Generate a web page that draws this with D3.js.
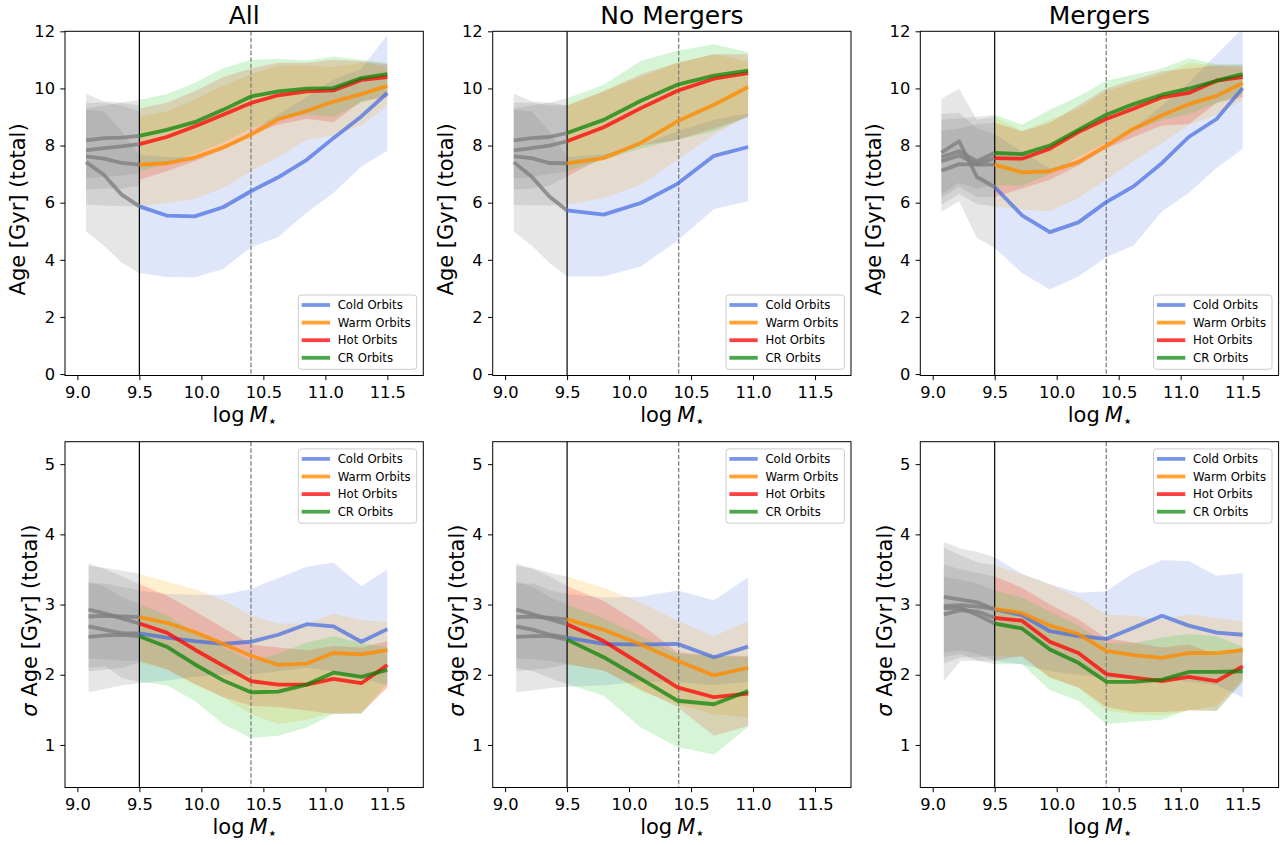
<!DOCTYPE html>
<html>
<head>
<meta charset="utf-8">
<title>Orbit ages vs stellar mass</title>
<script src="https://d3js.org/d3.v7.min.js"></script>
<style>
  body { margin: 0; background: #fff; }
  text { font-family: "DejaVu Sans", sans-serif; fill: #000; }
</style>
</head>
<body>
<script>
// mass bins
var xBins = [9.5, 9.72, 9.945, 10.175, 10.4, 10.62, 10.85, 11.065, 11.29, 11.5];
var xBinsNoMerg = [9.5, 9.795, 10.095, 10.39, 10.685, 10.96];
var xLowTop = [9.07, 9.213, 9.357, 9.5];
var xLowBot = [9.09, 9.227, 9.363, 9.5];

var orbitNames = ["Cold Orbits", "Warm Orbits", "Hot Orbits", "CR Orbits"];
var titles = ["All", "No Mergers", "Mergers"];
var xTicks = [9.0, 9.5, 10.0, 10.5, 11.0, 11.5];
var ageTicks = [0, 2, 4, 6, 8, 10, 12];
var sigTicks = [1, 2, 3, 4, 5];

// every series: [median, lower, upper]
// ---- Age, All
var ageAllCold = [[5.87, 5.55, 5.52, 5.84, 6.40, 6.89, 7.50, 8.26, 9.02, 9.84],
                  [3.54, 3.40, 3.39, 3.68, 4.44, 4.80, 5.66, 6.34, 7.27, 7.82],
                  [7.67, 7.60, 7.60, 7.90, 8.50, 9.10, 9.70, 10.30, 10.70, 11.86]];
var ageAllWarm = [[7.33, 7.38, 7.58, 7.93, 8.38, 8.92, 9.21, 9.54, 9.80, 10.09],
                  [5.87, 5.99, 6.14, 6.51, 7.10, 7.60, 8.20, 8.35, 8.70, 9.40],
                  [9.00, 9.20, 9.60, 10.10, 10.50, 10.80, 10.80, 10.75, 10.90, 10.75]];
var ageAllHot = [[8.05, 8.30, 8.67, 9.08, 9.49, 9.76, 9.90, 9.93, 10.30, 10.40],
                 [6.80, 7.10, 7.45, 7.85, 8.38, 8.73, 8.94, 8.82, 9.55, 9.70],
                 [9.30, 9.50, 9.90, 10.40, 10.70, 10.90, 10.90, 11.00, 10.95, 10.85]];
var ageAllCR = [[8.34, 8.55, 8.82, 9.25, 9.72, 9.90, 9.99, 10.01, 10.36, 10.50],
                [7.10, 7.35, 7.70, 8.10, 8.60, 8.90, 9.10, 9.00, 9.50, 9.80],
                [9.60, 9.80, 10.19, 10.71, 11.00, 11.04, 10.98, 11.12, 11.00, 10.89]];
var ageAllLowCold = [[7.42, 6.98, 6.28, 5.87], [5.00, 4.50, 3.90, 3.54], [9.25, 9.20, 8.50, 7.67]];
var ageAllLowWarm = [[7.62, 7.54, 7.39, 7.33], [5.93, 5.90, 5.88, 5.87], [9.50, 9.50, 9.40, 9.20]];
var ageAllLowHot = [[7.83, 7.91, 7.97, 8.05], [6.46, 6.50, 6.50, 6.60], [9.81, 9.55, 9.50, 9.40]];
var ageAllLowCR = [[8.18, 8.26, 8.28, 8.34], [6.86, 6.90, 6.95, 7.04], [9.30, 9.40, 9.50, 9.60]];

// ---- Age, No Mergers
var ageNoCold = [[5.73, 5.58, 5.99, 6.66, 7.64, 7.95],
                 [3.42, 3.42, 3.77, 4.67, 5.78, 6.05],
                 [7.60, 7.70, 8.00, 8.50, 8.90, 9.13]];
var ageNoWarm = [[7.38, 7.56, 8.09, 8.85, 9.43, 10.05],
                 [5.93, 6.16, 6.63, 7.50, 8.38, 9.05],
                 [9.40, 9.90, 10.40, 10.90, 11.20, 10.95]];
var ageNoHot = [[8.15, 8.64, 9.31, 9.92, 10.34, 10.54],
                [6.92, 7.60, 8.00, 8.20, 8.60, 9.00],
                [9.40, 9.90, 10.50, 10.90, 11.20, 11.20]];
var ageNoCR = [[8.44, 8.90, 9.57, 10.13, 10.45, 10.62],
               [7.10, 7.50, 7.90, 8.20, 8.50, 9.00],
               [9.66, 10.13, 10.97, 11.32, 11.55, 11.27]];
var ageNoLowCold = [[7.42, 6.92, 6.22, 5.73], [5.00, 4.50, 3.90, 3.42], [9.25, 9.20, 8.50, 7.60]];
var ageNoLowWarm = [[7.62, 7.56, 7.39, 7.38], [5.93, 5.90, 5.90, 5.93], [9.50, 9.50, 9.40, 9.40]];
var ageNoLowHot = [[7.83, 7.91, 8.00, 8.15], [6.46, 6.50, 6.60, 6.92], [9.81, 9.55, 9.50, 9.40]];
var ageNoLowCR = [[8.18, 8.26, 8.30, 8.44], [6.86, 6.90, 7.00, 7.10], [9.30, 9.40, 9.50, 9.66]];

// ---- Age, Mergers
var ageMgCold = [[6.55, 5.56, 4.97, 5.31, 6.02, 6.57, 7.39, 8.30, 8.93, 10.01],
                 [4.41, 3.54, 2.96, 3.42, 4.09, 4.50, 5.70, 6.34, 7.21, 7.89],
                 [8.40, 7.80, 7.20, 7.50, 8.00, 8.60, 9.40, 10.20, 11.20, 12.10]];
var ageMgWarm = [[7.33, 7.06, 7.10, 7.42, 7.99, 8.59, 9.06, 9.45, 9.74, 10.19],
                 [5.87, 5.76, 5.70, 6.16, 6.80, 7.45, 8.09, 8.73, 9.08, 9.60],
                 [9.00, 8.50, 8.90, 9.30, 9.90, 10.20, 10.50, 10.90, 10.80, 10.70]];
var ageMgHot = [[7.56, 7.54, 7.89, 8.47, 8.93, 9.29, 9.69, 9.84, 10.27, 10.40],
                [6.20, 6.50, 6.80, 7.30, 7.90, 8.30, 8.70, 8.75, 9.50, 9.70],
                [8.80, 8.50, 8.80, 9.40, 10.00, 10.30, 10.60, 10.70, 10.80, 10.80]];
var ageMgCR = [[7.74, 7.70, 8.00, 8.55, 9.08, 9.45, 9.78, 9.99, 10.27, 10.50],
               [6.60, 6.60, 7.00, 7.60, 8.10, 8.50, 8.90, 9.10, 9.50, 9.80],
               [9.08, 8.73, 9.25, 9.72, 10.27, 10.48, 10.71, 11.06, 10.85, 10.85]];
var ageMgLowCold = [[7.75, 8.15, 6.90, 6.55], [5.67, 6.05, 4.76, 4.41], [9.10, 9.15, 8.60, 8.40]];
var ageMgLowWarm = [[7.12, 7.35, 7.33, 7.33], [5.93, 6.30, 5.95, 5.87], [9.64, 9.99, 8.90, 9.00]];
var ageMgLowHot = [[7.45, 7.65, 7.35, 7.56], [6.16, 6.57, 6.20, 6.20], [8.50, 8.60, 8.75, 8.80]];
var ageMgLowCR = [[7.60, 7.80, 7.45, 7.74], [6.30, 6.70, 6.50, 6.60], [8.90, 8.95, 9.00, 9.08]];

// ---- sigma Age, All
var sigAllCold = [[2.59, 2.53, 2.48, 2.44, 2.47, 2.57, 2.72, 2.69, 2.47, 2.65],
                  [1.88, 1.92, 1.97, 2.00, 2.00, 2.05, 2.10, 2.05, 1.95, 1.85],
                  [3.20, 3.15, 3.14, 3.14, 3.22, 3.38, 3.54, 3.60, 3.26, 3.50]];
var sigAllWarm = [[2.82, 2.74, 2.61, 2.44, 2.27, 2.14, 2.16, 2.31, 2.29, 2.35],
                  [2.17, 2.08, 1.87, 1.68, 1.44, 1.30, 1.36, 1.46, 1.46, 1.82],
                  [3.44, 3.33, 3.22, 3.06, 2.84, 2.73, 2.73, 2.87, 2.78, 2.75]];
var sigAllHot = [[2.73, 2.60, 2.36, 2.13, 1.91, 1.86, 1.86, 1.94, 1.88, 2.14],
                 [2.20, 2.08, 1.87, 1.68, 1.56, 1.54, 1.49, 1.44, 1.45, 1.82],
                 [3.29, 3.13, 2.91, 2.67, 2.43, 2.39, 2.35, 2.41, 2.39, 2.48]];
var sigAllCR = [[2.55, 2.40, 2.15, 1.92, 1.75, 1.76, 1.86, 2.03, 1.97, 2.07],
                [1.90, 1.85, 1.63, 1.30, 1.10, 1.13, 1.25, 1.44, 1.44, 1.89],
                [3.00, 2.85, 2.60, 2.40, 2.20, 2.30, 2.46, 2.55, 2.45, 2.40]];
var sigAllLowCold = [[2.69, 2.64, 2.59, 2.59], [1.75, 1.80, 1.85, 1.88], [3.30, 3.30, 3.25, 3.20]];
var sigAllLowWarm = [[2.83, 2.84, 2.83, 2.82], [2.05, 2.07, 2.10, 2.17], [3.55, 3.52, 3.48, 3.44]];
var sigAllLowHot = [[2.93, 2.87, 2.80, 2.73], [2.23, 2.22, 2.20, 2.20], [3.59, 3.50, 3.40, 3.29]];
var sigAllLowCR = [[2.54, 2.56, 2.57, 2.55], [2.10, 2.12, 1.95, 1.90], [3.33, 3.25, 3.10, 3.00]];

// ---- sigma Age, No Mergers
var sigNoCold = [[2.53, 2.44, 2.43, 2.44, 2.25, 2.40],
                 [1.83, 1.85, 1.90, 1.90, 1.85, 1.90],
                 [3.15, 3.10, 3.11, 3.20, 3.06, 3.39]];
var sigNoWarm = [[2.79, 2.64, 2.43, 2.20, 1.99, 2.10],
                 [2.15, 2.06, 1.77, 1.58, 1.44, 1.39],
                 [3.40, 3.24, 3.03, 2.77, 2.55, 2.76]];
var sigNoHot = [[2.72, 2.48, 2.15, 1.82, 1.68, 1.73],
                [2.15, 2.06, 1.79, 1.54, 1.13, 1.27],
                [3.26, 3.05, 2.72, 2.32, 2.27, 2.27]];
var sigNoCR = [[2.50, 2.25, 1.94, 1.63, 1.58, 1.77],
               [1.87, 1.70, 1.25, 0.97, 0.86, 1.26],
               [3.00, 2.80, 2.55, 2.30, 2.27, 2.25]];
var sigNoLowCold = [[2.69, 2.64, 2.57, 2.53], [1.75, 1.78, 1.81, 1.83], [3.30, 3.30, 3.20, 3.15]];
var sigNoLowWarm = [[2.82, 2.83, 2.81, 2.79], [2.05, 2.07, 2.10, 2.15], [3.55, 3.52, 3.45, 3.40]];
var sigNoLowHot = [[2.93, 2.86, 2.79, 2.72], [2.23, 2.22, 2.20, 2.15], [3.59, 3.50, 3.40, 3.26]];
var sigNoLowCR = [[2.54, 2.55, 2.55, 2.50], [2.10, 2.05, 1.95, 1.87], [3.33, 3.25, 3.10, 3.00]];

// ---- sigma Age, Mergers
var sigMgCold = [[2.93, 2.85, 2.62, 2.55, 2.51, 2.67, 2.84, 2.70, 2.60, 2.57],
                 [2.20, 2.15, 2.05, 2.00, 1.95, 1.95, 1.95, 1.90, 1.85, 1.68],
                 [3.67, 3.44, 3.29, 3.17, 3.19, 3.45, 3.63, 3.62, 3.41, 3.45]];
var sigMgWarm = [[2.94, 2.88, 2.70, 2.58, 2.34, 2.28, 2.24, 2.31, 2.31, 2.35],
                 [2.27, 2.25, 1.96, 1.82, 1.49, 1.44, 1.42, 1.49, 1.56, 1.94],
                 [3.56, 3.43, 3.29, 3.10, 2.86, 2.84, 2.79, 2.86, 2.81, 2.76]];
var sigMgHot = [[2.81, 2.77, 2.47, 2.31, 2.01, 1.96, 1.91, 1.97, 1.91, 2.12],
                [2.20, 2.27, 1.96, 1.82, 1.54, 1.47, 1.47, 1.49, 1.49, 1.91],
                [3.40, 3.24, 3.00, 2.79, 2.52, 2.46, 2.39, 2.43, 2.29, 2.39]];
var sigMgCR = [[2.73, 2.66, 2.36, 2.17, 1.90, 1.90, 1.93, 2.04, 2.04, 2.05],
               [2.15, 2.15, 1.78, 1.63, 1.30, 1.33, 1.36, 1.50, 1.48, 1.89],
               [3.20, 3.10, 2.90, 2.70, 2.45, 2.45, 2.53, 2.58, 2.55, 2.40]];
var sigMgLowCold = [[3.11, 3.07, 3.03, 2.93], [1.91, 2.20, 2.20, 2.20], [3.89, 3.80, 3.75, 3.67]];
var sigMgLowWarm = [[2.98, 2.99, 2.97, 2.94], [2.16, 2.25, 2.25, 2.27], [3.81, 3.70, 3.60, 3.56]];
var sigMgLowHot = [[2.86, 2.92, 2.90, 2.81], [2.32, 2.35, 2.30, 2.20], [3.57, 3.50, 3.45, 3.40]];
var sigMgLowCR = [[2.95, 2.95, 2.85, 2.73], [2.25, 2.30, 2.20, 2.15], [3.40, 3.35, 3.30, 3.20]];

// styling
var lineColors = ["royalblue", "darkorange", "red", "green"];
var lineAlpha = [0.7, 0.8, 0.75, 0.7];
var bandColors = ["royalblue", "orange", "red", "limegreen"];
var bandAlpha = [0.17, 0.18, 0.17, 0.2];

var colLeft = [65, 492.7, 920.3];
var pw = 358.3;
var rowTop = [31.3, 441.7];
var rowH = [344.2, 345.8];

var panels = [
  { row: 0, col: 0, x: xBins, xl: xLowTop, s: [ageAllCold, ageAllWarm, ageAllHot, ageAllCR], low: [ageAllLowCold, ageAllLowWarm, ageAllLowHot, ageAllLowCR] },
  { row: 0, col: 1, x: xBinsNoMerg, xl: xLowTop, s: [ageNoCold, ageNoWarm, ageNoHot, ageNoCR], low: [ageNoLowCold, ageNoLowWarm, ageNoLowHot, ageNoLowCR] },
  { row: 0, col: 2, x: xBins, xl: xLowTop, s: [ageMgCold, ageMgWarm, ageMgHot, ageMgCR], low: [ageMgLowCold, ageMgLowWarm, ageMgLowHot, ageMgLowCR] },
  { row: 1, col: 0, x: xBins, xl: xLowBot, s: [sigAllCold, sigAllWarm, sigAllHot, sigAllCR], low: [sigAllLowCold, sigAllLowWarm, sigAllLowHot, sigAllLowCR] },
  { row: 1, col: 1, x: xBinsNoMerg, xl: xLowBot, s: [sigNoCold, sigNoWarm, sigNoHot, sigNoCR], low: [sigNoLowCold, sigNoLowWarm, sigNoLowHot, sigNoLowCR] },
  { row: 1, col: 2, x: xBins, xl: xLowBot, s: [sigMgCold, sigMgWarm, sigMgHot, sigMgCR], low: [sigMgLowCold, sigMgLowWarm, sigMgLowHot, sigMgLowCR] }
];

var svg = d3.select("body").append("svg").attr("width", 1288).attr("height", 845);

function zip(xs, s) {
  return xs.map(function(xv, k) { return { x: xv, m: s[0][k], lo: s[1][k], hi: s[2][k] }; });
}

panels.forEach(function(p, i) {
  var left = colLeft[p.col], top = rowTop[p.row], h = rowH[p.row];
  var x = d3.scaleLinear().domain([8.9, 11.79]).range([left, left + pw]);
  var y = d3.scaleLinear().domain(p.row == 0 ? [-0.05, 12] : [0.394, 5.32]).range([top + h, top]);

  svg.append("clipPath").attr("id", "clip" + i)
    .append("rect").attr("x", left).attr("y", top).attr("width", pw).attr("height", h);
  var plot = svg.append("g").attr("clip-path", "url(#clip" + i + ")");

  var area = d3.area().x(function(d) { return x(d.x); })
    .y0(function(d) { return y(d.lo); }).y1(function(d) { return y(d.hi); });
  var line = d3.line().x(function(d) { return x(d.x); }).y(function(d) { return y(d.m); });

  // bands
  p.low.forEach(function(s) {
    plot.append("path").datum(zip(p.xl, s)).attr("d", area)
      .attr("fill", "gray").attr("fill-opacity", 0.2);
  });
  p.s.forEach(function(s, k) {
    plot.append("path").datum(zip(p.x, s)).attr("d", area)
      .attr("fill", bandColors[k]).attr("fill-opacity", bandAlpha[k]);
  });

  // mass limits
  plot.append("line").attr("x1", x(9.5)).attr("x2", x(9.5)).attr("y1", top).attr("y2", top + h)
    .attr("stroke", "black").attr("stroke-width", 1.2);
  plot.append("line").attr("x1", x(10.4)).attr("x2", x(10.4)).attr("y1", top).attr("y2", top + h)
    .attr("stroke", "gray").attr("stroke-width", 1.3).attr("stroke-dasharray", "4.5,2");

  // medians
  p.low.forEach(function(s) {
    plot.append("path").datum(zip(p.xl, s)).attr("d", line)
      .attr("fill", "none").attr("stroke", "gray").attr("stroke-opacity", 0.8)
      .attr("stroke-width", 3.8).attr("stroke-linejoin", "round");
  });
  p.s.forEach(function(s, k) {
    plot.append("path").datum(zip(p.x, s)).attr("d", line)
      .attr("fill", "none").attr("stroke", lineColors[k]).attr("stroke-opacity", lineAlpha[k])
      .attr("stroke-width", 3.8).attr("stroke-linejoin", "round");
  });

  // axes
  var xa = svg.append("g").attr("transform", "translate(0," + (top + h) + ")")
    .call(d3.axisBottom(x).tickValues(xTicks).tickFormat(d3.format(".1f"))
      .tickSize(4.7).tickPadding(6.3).tickSizeOuter(0));
  var ya = svg.append("g").attr("transform", "translate(" + left + ",0)")
    .call(d3.axisLeft(y).tickValues(p.row == 0 ? ageTicks : sigTicks).tickFormat(d3.format("d"))
      .tickSize(4.7).tickPadding(5.3).tickSizeOuter(0));
  [xa, ya].forEach(function(a) {
    a.select(".domain").remove();
    a.selectAll("line").attr("stroke", "black").attr("stroke-width", 1);
    a.selectAll("text").attr("font-size", "16.3px").attr("font-family", "DejaVu Sans").attr("fill", "black");
  });

  svg.append("rect").attr("x", left).attr("y", top).attr("width", pw).attr("height", h)
    .attr("fill", "none").attr("stroke", "black").attr("stroke-width", 1);

  // labels
  var xl = svg.append("text").attr("x", left + pw / 2).attr("y", top + h + 46)
    .attr("text-anchor", "middle").attr("font-size", "21px");
  xl.append("tspan").text("log");
  xl.append("tspan").attr("dx", 5).attr("font-style", "italic").text("M");
  xl.append("tspan").attr("dx", 1).attr("dy", 2.5).attr("font-size", "8px").text("\u2605");

  var yl = svg.append("text")
    .attr("transform", "translate(" + (left - (p.row == 0 ? 39.7 : 28.3)) + "," + (top + h / 2 + 6) + ") rotate(-90)")
    .attr("text-anchor", "middle").attr("font-size", "21px");
  if (p.row == 1) {
    yl.append("tspan").attr("font-style", "italic").text("\u03C3");
    yl.append("tspan").text(" Age [Gyr] (total)");
  } else {
    yl.text("Age [Gyr] (total)");
  }

  if (p.row == 0) {
    svg.append("text").attr("x", left + pw / 2).attr("y", top - 7.5)
      .attr("text-anchor", "middle").attr("font-size", "25px").text(titles[p.col]);
  }

  // legend
  var bw = 118.4, bh = 74.3;
  var bx = left + pw - 6.6 - bw;
  var by = p.row == 0 ? top + h - 6.2 - bh : top + 7.2;
  var lg = svg.append("g");
  lg.append("rect").attr("x", bx).attr("y", by).attr("width", bw).attr("height", bh)
    .attr("rx", 3).attr("fill", "white").attr("fill-opacity", 0.8)
    .attr("stroke", "#cccccc").attr("stroke-width", 1);
  orbitNames.forEach(function(name, k) {
    var cy = by + 10 + k * 17.6;
    lg.append("line").attr("x1", bx + 3.4).attr("x2", bx + 31.7).attr("y1", cy).attr("y2", cy)
      .attr("stroke", lineColors[k]).attr("stroke-opacity", lineAlpha[k]).attr("stroke-width", 3.8);
    lg.append("text").attr("x", bx + 39.4).attr("y", cy + 4.2)
      .attr("font-size", "11.7px").text(name);
  });
});
</script>
</body>
</html>
